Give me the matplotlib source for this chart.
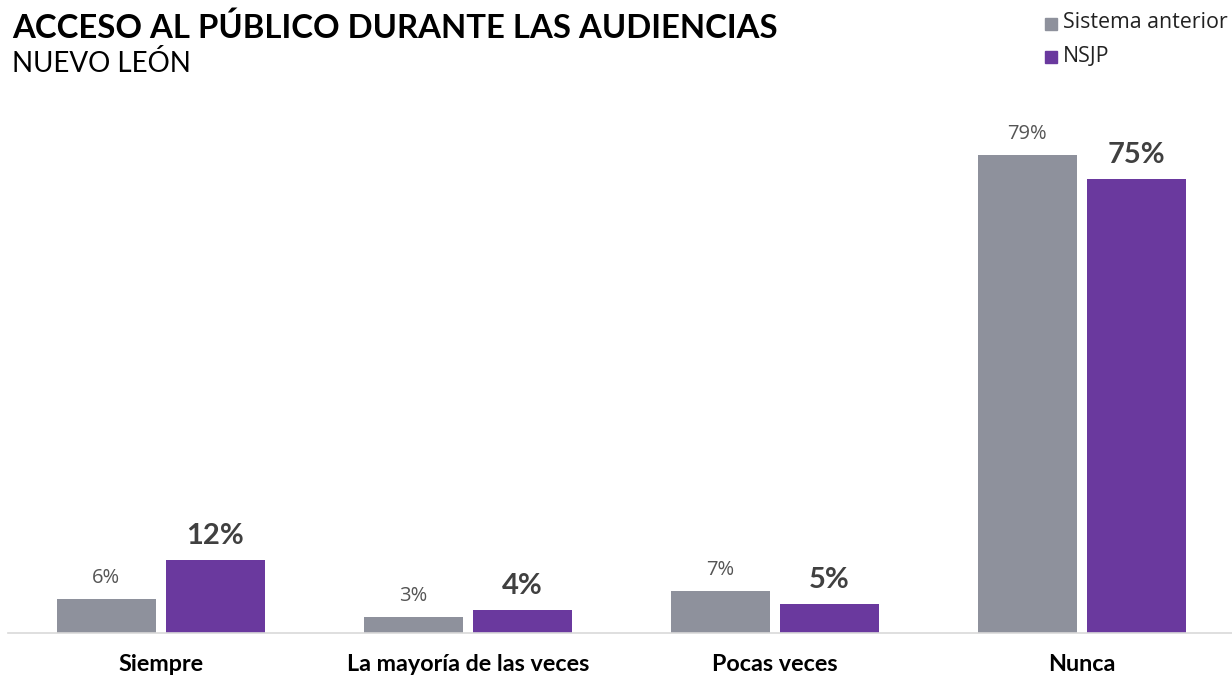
import matplotlib.pyplot as plt
import numpy as np

# data
categories = ['Siempre', 'La mayoría de las veces', 'Pocas veces', 'Nunca']
series_names = ['Sistema anterior', 'NSJP']
anterior = [5.6, 2.7, 6.9, 79.0]
nsjp = [12.1, 3.8, 4.8, 75.0]

gray = '#8e919c'
purple = '#6a399e'

W, H = 1232, 675
fig = plt.figure(figsize=(W / 100, H / 100), dpi=100)
# axes placed in pixel terms: x 8..1232, baseline at y=633, top at y=100
ax = fig.add_axes([8 / W, (H - 633) / H, (1232 - 8) / W, (633 - 100) / H])

x = np.arange(len(categories))
width = 0.3225
off = 0.1775
b1 = ax.bar(x - off, anterior, width, color=gray, edgecolor='none')
b2 = ax.bar(x + off, nsjp, width, color=purple, edgecolor='none')

for rect, v in zip(b1, anterior):
    ax.annotate('%.0f%%' % v, (rect.get_x() + rect.get_width() / 2, v),
                xytext=(0, 8), textcoords='offset points', ha='center',
                va='bottom', fontsize=14.5, color='#555555',
                family='Open Sans')
for rect, v in zip(b2, nsjp):
    ax.annotate('%.0f%%' % v, (rect.get_x() + rect.get_width() / 2, v),
                xytext=(0, 8), textcoords='offset points', ha='center',
                va='bottom', fontsize=21, color='#404040',
                family='Lato', fontweight='bold')

ax.set_xlim(-0.498, 3.489)
ax.set_ylim(0, 88.1)
ax.set_xticks(x)
ax.set_xticklabels(categories, family='Lato', fontweight='bold',
                   fontsize=16.8, color='black')
ax.tick_params(axis='x', length=0, pad=15)
ax.set_yticks([])
for s in ['top', 'right', 'left']:
    ax.spines[s].set_visible(False)
ax.spines['bottom'].set_color('#d9d9d9')
ax.spines['bottom'].set_linewidth(1.2)

fig.text(12 / W, 1 - 28 / H, 'ACCESO AL PÚBLICO DURANTE LAS AUDIENCIAS',
         family='Lato', fontweight='bold', fontsize=23.7, va='center',
         color='black')
fig.text(12 / W, 1 - 64 / H, 'NUEVO LEÓN', family='Lato', fontsize=20,
         va='center', color='black')

# legend drawn by hand in the top right corner
for i, (name, col) in enumerate(zip(series_names, [gray, purple])):
    yc = 1 - (24 + 33 * i) / H
    fig.patches.append(plt.Rectangle((1045 / W, yc - 6 / H), 12 / W, 12 / H,
                                     transform=fig.transFigure, color=col))
    fig.text(1063 / W, yc + 1 / H, name, family='Open Sans', fontsize=15.4,
             va='center', color='#222222')

fig.savefig('out.png', dpi=100)
